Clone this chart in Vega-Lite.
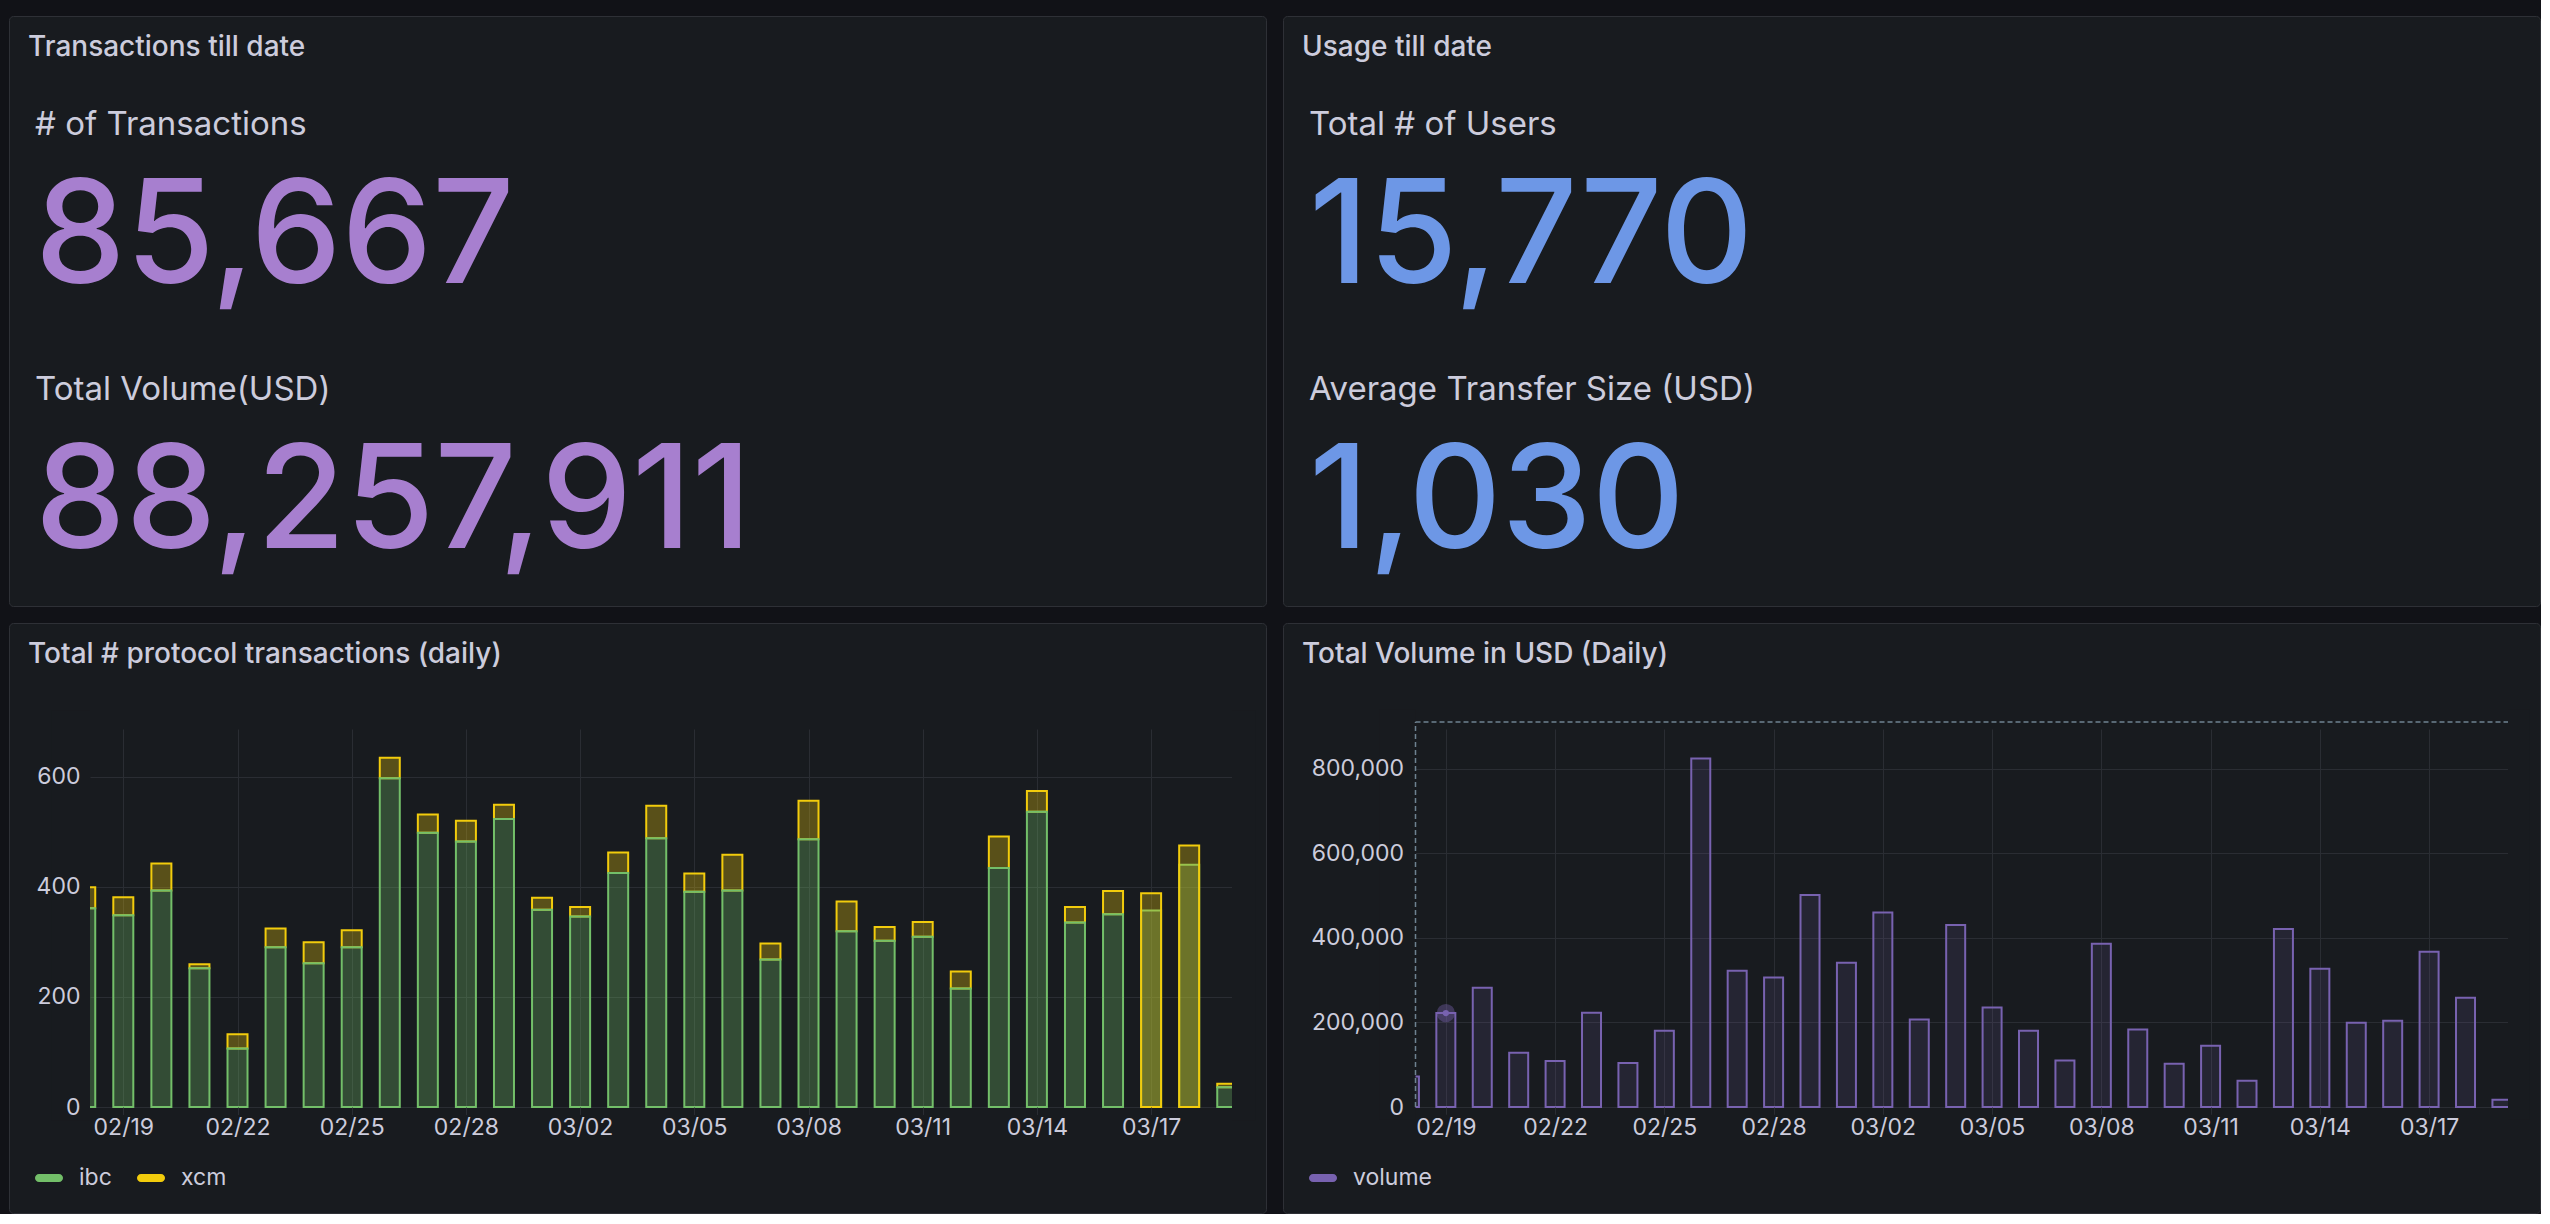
{
  "$schema": "https://vega.github.io/schema/vega-lite/v6.json",
  "background": "#111217",
  "padding": {"left": 8, "top": 15, "right": 0, "bottom": 0},
  "datasets": {
    "totals_tx": [
      {"metric": "# of Transactions", "value": 85667},
      {"metric": "Total Volume(USD)", "value": 88257911}
    ],
    "totals_usage": [
      {"metric": "Total # of Users", "value": 15770},
      {"metric": "Average Transfer Size (USD)", "value": 1030}
    ],
    "daily_tx": [
      {"date": "2024-02-18", "series": "xcm", "count": 38}, {"date": "2024-02-18", "series": "ibc", "count": 361},
      {"date": "2024-02-19", "series": "xcm", "count": 33}, {"date": "2024-02-19", "series": "ibc", "count": 348},
      {"date": "2024-02-20", "series": "xcm", "count": 49}, {"date": "2024-02-20", "series": "ibc", "count": 393},
      {"date": "2024-02-21", "series": "xcm", "count": 7}, {"date": "2024-02-21", "series": "ibc", "count": 252},
      {"date": "2024-02-22", "series": "xcm", "count": 26}, {"date": "2024-02-22", "series": "ibc", "count": 106},
      {"date": "2024-02-23", "series": "xcm", "count": 34}, {"date": "2024-02-23", "series": "ibc", "count": 290},
      {"date": "2024-02-24", "series": "xcm", "count": 38}, {"date": "2024-02-24", "series": "ibc", "count": 261},
      {"date": "2024-02-25", "series": "xcm", "count": 31}, {"date": "2024-02-25", "series": "ibc", "count": 290},
      {"date": "2024-02-26", "series": "xcm", "count": 37}, {"date": "2024-02-26", "series": "ibc", "count": 597},
      {"date": "2024-02-27", "series": "xcm", "count": 33}, {"date": "2024-02-27", "series": "ibc", "count": 498},
      {"date": "2024-02-28", "series": "xcm", "count": 38}, {"date": "2024-02-28", "series": "ibc", "count": 482},
      {"date": "2024-02-29", "series": "xcm", "count": 26}, {"date": "2024-02-29", "series": "ibc", "count": 523},
      {"date": "2024-03-01", "series": "xcm", "count": 22}, {"date": "2024-03-01", "series": "ibc", "count": 358},
      {"date": "2024-03-02", "series": "xcm", "count": 17}, {"date": "2024-03-02", "series": "ibc", "count": 346},
      {"date": "2024-03-03", "series": "xcm", "count": 37}, {"date": "2024-03-03", "series": "ibc", "count": 425},
      {"date": "2024-03-04", "series": "xcm", "count": 59}, {"date": "2024-03-04", "series": "ibc", "count": 488},
      {"date": "2024-03-05", "series": "xcm", "count": 33}, {"date": "2024-03-05", "series": "ibc", "count": 391},
      {"date": "2024-03-06", "series": "xcm", "count": 65}, {"date": "2024-03-06", "series": "ibc", "count": 393},
      {"date": "2024-03-07", "series": "xcm", "count": 29}, {"date": "2024-03-07", "series": "ibc", "count": 268},
      {"date": "2024-03-08", "series": "xcm", "count": 70}, {"date": "2024-03-08", "series": "ibc", "count": 486},
      {"date": "2024-03-09", "series": "xcm", "count": 54}, {"date": "2024-03-09", "series": "ibc", "count": 319},
      {"date": "2024-03-10", "series": "xcm", "count": 25}, {"date": "2024-03-10", "series": "ibc", "count": 302},
      {"date": "2024-03-11", "series": "xcm", "count": 27}, {"date": "2024-03-11", "series": "ibc", "count": 309},
      {"date": "2024-03-12", "series": "xcm", "count": 31}, {"date": "2024-03-12", "series": "ibc", "count": 215},
      {"date": "2024-03-13", "series": "xcm", "count": 57}, {"date": "2024-03-13", "series": "ibc", "count": 434},
      {"date": "2024-03-14", "series": "xcm", "count": 38}, {"date": "2024-03-14", "series": "ibc", "count": 536},
      {"date": "2024-03-15", "series": "xcm", "count": 28}, {"date": "2024-03-15", "series": "ibc", "count": 335},
      {"date": "2024-03-16", "series": "xcm", "count": 42}, {"date": "2024-03-16", "series": "ibc", "count": 350},
      {"date": "2024-03-19", "series": "xcm", "count": 6}, {"date": "2024-03-19", "series": "ibc", "count": 36}
    ],
    "daily_tx_unstacked": [
      {"date": "2024-03-17", "series": "ibc", "count": 357}, {"date": "2024-03-17", "series": "xcm", "count": 388},
      {"date": "2024-03-18", "series": "ibc", "count": 440}, {"date": "2024-03-18", "series": "xcm", "count": 475}
    ],
    "daily_volume": [
      {"date": "2024-02-18", "volume": 72000},
      {"date": "2024-02-19", "volume": 222000},
      {"date": "2024-02-20", "volume": 282000},
      {"date": "2024-02-21", "volume": 128000},
      {"date": "2024-02-22", "volume": 109000},
      {"date": "2024-02-23", "volume": 223000},
      {"date": "2024-02-24", "volume": 104000},
      {"date": "2024-02-25", "volume": 180000},
      {"date": "2024-02-26", "volume": 824000},
      {"date": "2024-02-27", "volume": 322000},
      {"date": "2024-02-28", "volume": 306000},
      {"date": "2024-02-29", "volume": 501000},
      {"date": "2024-03-01", "volume": 341000},
      {"date": "2024-03-02", "volume": 460000},
      {"date": "2024-03-03", "volume": 207000},
      {"date": "2024-03-04", "volume": 430000},
      {"date": "2024-03-05", "volume": 235000},
      {"date": "2024-03-06", "volume": 180000},
      {"date": "2024-03-07", "volume": 110000},
      {"date": "2024-03-08", "volume": 386000},
      {"date": "2024-03-09", "volume": 183000},
      {"date": "2024-03-10", "volume": 102000},
      {"date": "2024-03-11", "volume": 145000},
      {"date": "2024-03-12", "volume": 62000},
      {"date": "2024-03-13", "volume": 421000},
      {"date": "2024-03-14", "volume": 327000},
      {"date": "2024-03-15", "volume": 199000},
      {"date": "2024-03-16", "volume": 204000},
      {"date": "2024-03-17", "volume": 367000},
      {"date": "2024-03-18", "volume": 258000},
      {"date": "2024-03-19", "volume": 17000}
    ],
    "hovered_volume": [
      {"date": "2024-02-19", "volume": 222000}
    ]
  },
  "columns": 2,
  "spacing": 17,
  "bounds": "flush",
  "resolve": {
    "scale": {"color": "independent", "stroke": "independent"},
    "legend": {"color": "independent", "stroke": "independent"}
  },
  "concat": [
    {
      "width": 1257,
      "height": 590,
      "title": {"text": "Transactions till date"},
      "data": {"name": "totals_tx"},
      "encoding": {
        "y": {"field": "metric", "type": "nominal", "sort": null, "axis": null,
              "scale": {"type": "point", "range": [119, 384], "padding": 0}}
      },
      "layer": [
        {"mark": {"type": "text", "align": "left", "baseline": "alphabetic", "x": 26, "fontSize": 33, "color": "#ccccdc"},
         "encoding": {"text": {"field": "metric", "type": "nominal"}}},
        {"mark": {"type": "text", "align": "left", "baseline": "alphabetic", "x": 26, "dy": 148, "fontSize": 144, "fontWeight": 500, "color": "#a77fcf"},
         "encoding": {"text": {"field": "value", "type": "quantitative", "format": ","}}}
      ]
    },
    {
      "width": 1257,
      "height": 590,
      "title": {"text": "Usage till date"},
      "data": {"name": "totals_usage"},
      "encoding": {
        "y": {"field": "metric", "type": "nominal", "sort": null, "axis": null,
              "scale": {"type": "point", "range": [119, 384], "padding": 0}}
      },
      "layer": [
        {"mark": {"type": "text", "align": "left", "baseline": "alphabetic", "x": 26, "fontSize": 33, "color": "#ccccdc"},
         "encoding": {"text": {"field": "metric", "type": "nominal"}}},
        {"mark": {"type": "text", "align": "left", "baseline": "alphabetic", "x": 26, "dy": 148, "fontSize": 144, "fontWeight": 500, "color": "#6d97e6"},
         "encoding": {"text": {"field": "value", "type": "quantitative", "format": ","}}}
      ]
    },
    {
      "width": 1257,
      "height": 590,
      "title": {"text": "Total # protocol transactions (daily)"},
      "resolve": {"axis": {"x": "independent", "y": "independent"}},
      "layer": [
        {
          "data": {"values": [{}]},
          "mark": {"type": "rect", "opacity": 0},
          "encoding": {
            "x": {"datum": 1708225200000, "type": "temporal",
                  "axis": {"title": null, "orient": "bottom", "offset": -106, "grid": true, "labels": false, "ticks": false, "zindex": 0,
                           "values": [1708300800000, 1708560000000, 1708819200000, 1709078400000, 1709337600000,
                                      1709596800000, 1709856000000, 1710115200000, 1710374400000, 1710633600000]}},
            "x2": {"datum": 1708225200000},
            "y": {"datum": 0, "type": "quantitative",
                  "axis": {"title": null, "orient": "left", "offset": -81, "grid": true, "labels": false, "ticks": false, "zindex": 0,
                           "values": [0, 200, 400, 600]}},
            "y2": {"datum": 0}
          }
        },
        {
          "data": {"name": "daily_tx", "format": {"parse": {"date": "utc:'%Y-%m-%d'"}}},
          "mark": {"type": "bar", "width": 20, "fillOpacity": 0.3, "strokeWidth": 2},
          "encoding": {
            "x": {
              "field": "date", "type": "temporal",
              "scale": {"type": "utc", "range": [81, 1223], "domain": [1708225200000, 1710817200000], "padding": 0, "nice": false},
              "axis": {
                "title": null, "orient": "bottom", "offset": -106, "grid": false, "zindex": 1,
                "labelExpr": "utcFormat(datum.value, '%m/%d')",
                "values": [1708300800000, 1708560000000, 1708819200000, 1709078400000, 1709337600000,
                           1709596800000, 1709856000000, 1710115200000, 1710374400000, 1710633600000],
                "tickSize": 7, "labelPadding": 2
              }
            },
            "y": {
              "field": "count", "type": "quantitative",
              "scale": {"domain": [0, 700], "range": [484, 98.5], "nice": false, "padding": 0},
              "axis": {"title": null, "orient": "left", "offset": -81, "grid": false, "zindex": 1,
                       "values": [0, 200, 400, 600], "ticks": false, "labelPadding": 10}
            },
            "color": {
              "field": "series", "type": "nominal",
              "scale": {"domain": ["ibc", "xcm"], "range": ["#73bf69", "#f2cc0c"]},
              "legend": {
                "orient": "none", "legendX": 26, "legendY": 541, "direction": "horizontal", "title": null,
                "symbolType": "M-0.714,-0.286H0.714A0.286,0.286 0 0 1 0.714,0.286H-0.714A0.286,0.286 0 0 1 -0.714,-0.286Z",
                "symbolSize": 784, "labelOffset": 16, "columnPadding": 25, "padding": 0,
                "symbolStrokeWidth": 0, "symbolOpacity": 1
              }
            },
            "stroke": {"field": "series", "type": "nominal", "legend": null,
                       "scale": {"domain": ["ibc", "xcm"], "range": ["#73bf69", "#f2cc0c"]}},
            "order": {"field": "series", "type": "ordinal", "sort": "ascending"}
          }
        },
        {
          "data": {"name": "daily_tx_unstacked", "format": {"parse": {"date": "utc:'%Y-%m-%d'"}}},
          "mark": {"type": "bar", "width": 20, "fillOpacity": 0.3, "strokeWidth": 2},
          "encoding": {
            "x": {"field": "date", "type": "temporal", "axis": null},
            "y": {"field": "count", "type": "quantitative", "stack": null, "axis": null},
            "color": {"field": "series", "type": "nominal"},
            "stroke": {"field": "series", "type": "nominal", "legend": null}
          }
        },
        {
          "data": {"values": [{}]},
          "mark": {"type": "rect", "color": "#181b1f"},
          "encoding": {
            "x": {"datum": 1708138800000, "type": "temporal", "axis": null},
            "x2": {"datum": 1708225200000},
            "y": {"datum": -25, "type": "quantitative", "axis": null},
            "y2": {"datum": 720}
          }
        },
        {
          "data": {"values": [{}]},
          "mark": {"type": "rect", "color": "#181b1f"},
          "encoding": {
            "x": {"datum": 1710817200000, "type": "temporal", "axis": null},
            "x2": {"datum": 1710871200000},
            "y": {"datum": -25, "type": "quantitative", "axis": null},
            "y2": {"datum": 720}
          }
        }
      ]
    },
    {
      "width": 1257,
      "height": 590,
      "title": {"text": "Total Volume in USD (Daily)"},
      "resolve": {"axis": {"x": "independent", "y": "independent"}},
      "layer": [
        {
          "data": {"values": [{}]},
          "mark": {"type": "rect", "opacity": 0},
          "encoding": {
            "x": {"datum": 1708228800000, "type": "temporal",
                  "axis": {"title": null, "orient": "bottom", "offset": -106, "grid": true, "labels": false, "ticks": false, "zindex": 0,
                           "values": [1708300800000, 1708560000000, 1708819200000, 1709078400000, 1709337600000,
                                      1709596800000, 1709856000000, 1710115200000, 1710374400000, 1710633600000]}},
            "x2": {"datum": 1708228800000},
            "y": {"datum": 0, "type": "quantitative",
                  "axis": {"title": null, "orient": "left", "offset": -132.5, "grid": true, "labels": false, "ticks": false, "zindex": 0,
                           "values": [0, 200000, 400000, 600000, 800000]}},
            "y2": {"datum": 0}
          }
        },
        {
          "data": {"name": "daily_volume", "format": {"parse": {"date": "utc:'%Y-%m-%d'"}}},
          "mark": {"type": "bar", "width": 19, "fillOpacity": 0.14, "strokeWidth": 2, "stroke": "#7862b0"},
          "encoding": {
            "x": {
              "field": "date", "type": "temporal",
              "scale": {"type": "utc", "range": [132.5, 1225], "domain": [1708228800000, 1710820800000], "padding": 0, "nice": false},
              "axis": {
                "title": null, "orient": "bottom", "offset": -106, "grid": false, "zindex": 1,
                "labelExpr": "utcFormat(datum.value, '%m/%d')",
                "values": [1708300800000, 1708560000000, 1708819200000, 1709078400000, 1709337600000,
                           1709596800000, 1709856000000, 1710115200000, 1710374400000, 1710633600000],
                "tickSize": 7, "labelPadding": 2
              }
            },
            "y": {
              "field": "volume", "type": "quantitative",
              "scale": {"domain": [0, 910000], "range": [484, 99], "nice": false, "padding": 0},
              "axis": {"title": null, "orient": "left", "offset": -132.5, "grid": false, "zindex": 1,
                       "values": [0, 200000, 400000, 600000, 800000],
                       "labelExpr": "format(datum.value, ',')", "ticks": false, "labelPadding": 12}
            },
            "color": {
              "datum": "volume",
              "scale": {"range": ["#7862b0"]},
              "legend": {
                "orient": "none", "legendX": 26, "legendY": 541, "direction": "horizontal", "title": null,
                "symbolType": "M-0.714,-0.286H0.714A0.286,0.286 0 0 1 0.714,0.286H-0.714A0.286,0.286 0 0 1 -0.714,-0.286Z",
                "symbolSize": 784, "labelOffset": 16, "padding": 0,
                "symbolStrokeWidth": 0, "symbolOpacity": 1
              }
            }
          }
        },
        {
          "data": {"values": [{}]},
          "mark": {"type": "rect", "color": "#181b1f"},
          "encoding": {
            "x": {"datum": 1708142400000, "type": "temporal", "axis": null},
            "x2": {"datum": 1708228800000},
            "y": {"datum": -30000, "type": "quantitative", "axis": null},
            "y2": {"datum": 940000}
          }
        },
        {
          "data": {"values": [{}]},
          "mark": {"type": "rect", "color": "#181b1f"},
          "encoding": {
            "x": {"datum": 1710820800000, "type": "temporal", "axis": null},
            "x2": {"datum": 1710871200000},
            "y": {"datum": -30000, "type": "quantitative", "axis": null},
            "y2": {"datum": 940000}
          }
        },
        {
          "data": {"values": [{}]},
          "mark": {"type": "rule", "color": "#6e8291", "strokeDash": [5, 3], "strokeWidth": 1.5},
          "encoding": {
            "x": {"datum": 1708228800000, "type": "temporal", "axis": null},
            "x2": {"datum": 1710820800000},
            "y": {"datum": 910000, "type": "quantitative", "axis": null}
          }
        },
        {
          "data": {"values": [{}]},
          "mark": {"type": "rule", "color": "#6e8291", "strokeDash": [5, 3], "strokeWidth": 1.5},
          "encoding": {
            "x": {"datum": 1708228800000, "type": "temporal", "axis": null},
            "y": {"datum": 0, "type": "quantitative", "axis": null},
            "y2": {"datum": 910000}
          }
        },
        {
          "data": {"name": "hovered_volume", "format": {"parse": {"date": "utc:'%Y-%m-%d'"}}},
          "mark": {"type": "point", "filled": true, "size": 40, "color": "#7862b0", "opacity": 1,
                   "stroke": "#7862b0", "strokeWidth": 12, "strokeOpacity": 0.4},
          "encoding": {
            "x": {"field": "date", "type": "temporal", "axis": null},
            "y": {"field": "volume", "type": "quantitative", "axis": null}
          }
        }
      ]
    }
  ],
  "config": {
    "font": "Inter",
    "view": {"fill": "#181b1f", "stroke": "#2e3036", "strokeWidth": 1, "cornerRadius": 4},
    "title": {"anchor": "start", "frame": "group", "offset": -46, "dx": 19, "fontSize": 28, "fontWeight": 500,
              "color": "#ccccdc", "font": "Inter", "baseline": "alphabetic"},
    "axis": {
      "labelFont": "Inter", "labelFontSize": 23, "labelColor": "#ccccdc", "labelFlush": false,
      "domain": false, "gridColor": "#2a2d33", "gridWidth": 1,
      "tickColor": "#2a2d33", "labelOverlap": false
    },
    "legend": {"labelFont": "Inter", "labelFontSize": 23, "labelColor": "#ccccdc"},
    "text": {"font": "Inter"}
  }
}
